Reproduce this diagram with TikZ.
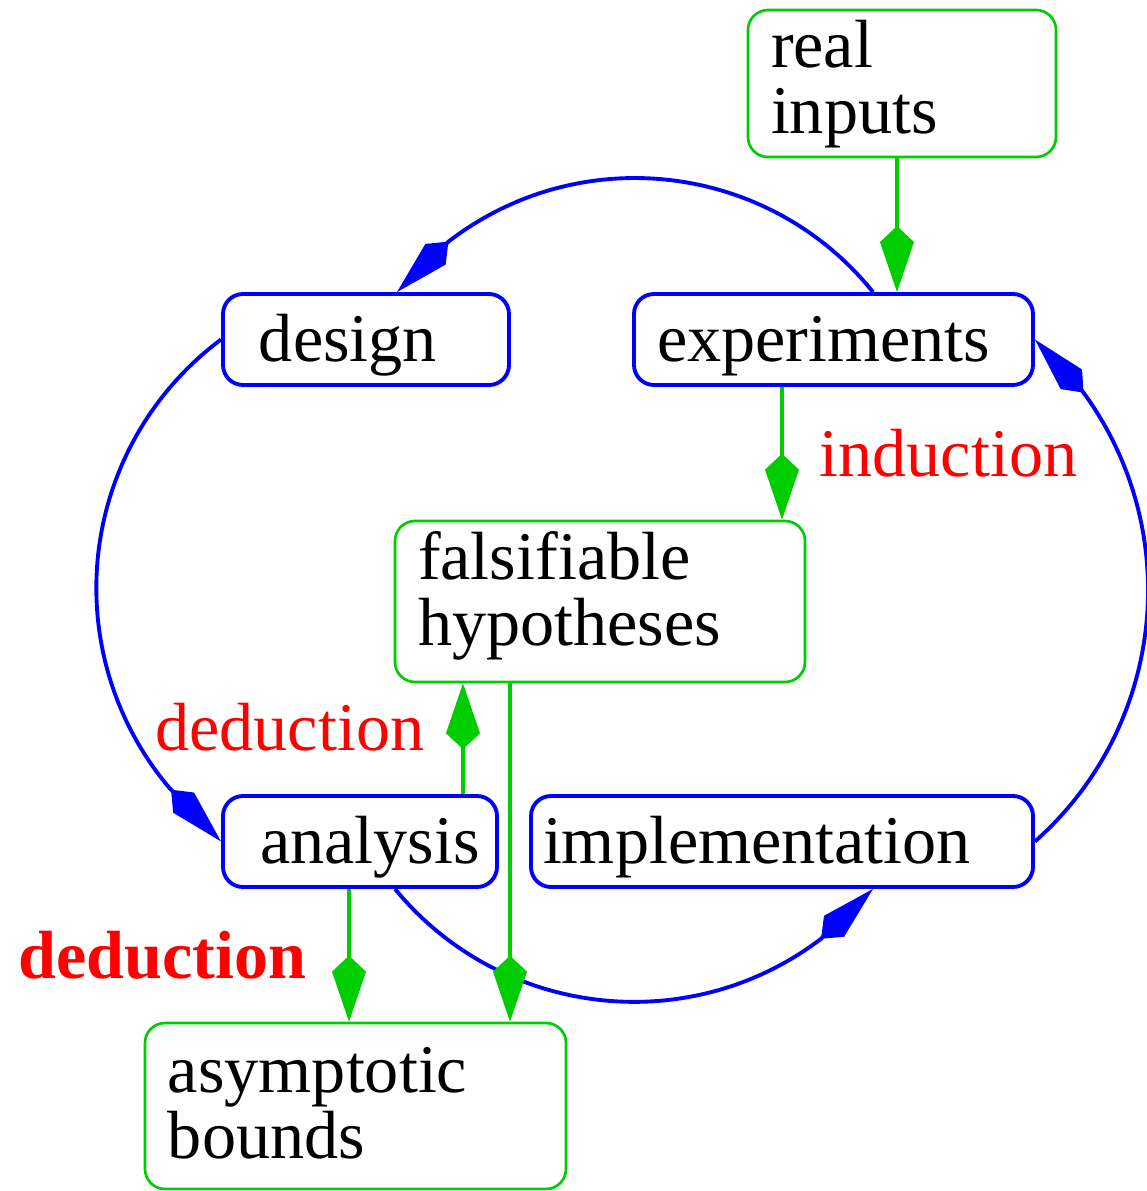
\documentclass[tikz,border=0pt]{standalone}
\usepackage{fontspec}
\setmainfont{Liberation Serif}
\usepackage{xcolor}
\usepackage{tikz}
\usetikzlibrary{arrows.meta}
\definecolor{grn}{RGB}{0,205,0}

\begin{document}
\begin{tikzpicture}[
  every node/.style={font=\fontsize{19.4pt}{18.5pt}\selectfont},
  bluebox/.style={draw=blue, line width=1.1pt, rounded corners=0.2cm, align=left,
    inner ysep=0pt, minimum height=0.91cm, text height=0.645cm, text depth=0.205cm},
  greenbox/.style={draw=grn, line width=0.75pt, rounded corners=0.2cm, align=left, inner ysep=0pt},
  ring/.style={draw=blue, line width=1.1pt,
    -{Kite[length=0.72cm, width=0.29cm, inset=0.18cm]}},
  flow/.style={draw=grn, line width=1pt,
    -{Kite[length=0.66cm, width=0.34cm, inset=0.16cm]}},
  tag/.style={text=red, inner sep=0pt}
]
\useasboundingbox (0,0) rectangle (11.47,11.91);
% ---- boxes ----
\node[greenbox, text width=2.62cm, inner xsep=0.23cm, minimum height=1.47cm,
  text height=0.55cm, text depth=0.86cm] (inputs) at (9.02,11.075) {real\\inputs};
\node[bluebox, text width=2.14cm, inner xsep=0.36cm] (design) at (3.66,8.515) {design};
\node[bluebox, text width=3.53cm, inner xsep=0.23cm] (experiments) at (8.335,8.515) {experiments};
\node[greenbox, text width=3.64cm, inner xsep=0.23cm, minimum height=1.61cm,
  text height=0.56cm, text depth=0.99cm] (hypotheses) at (6.00,5.895) {falsifiable\\hypotheses};
\node[bluebox, text width=2.00cm, inner xsep=0.37cm] (analysis) at (3.60,3.495) {analysis};
\node[bluebox, text width=4.78cm, inner xsep=0.12cm] (implementation) at (7.82,3.495) {implementation};
\node[greenbox, text width=3.75cm, inner xsep=0.23cm, minimum height=1.66cm,
  text height=0.67cm, text depth=0.93cm] (bounds) at (3.555,0.85) {asymptotic\\bounds};
% ---- the cycle (circle arcs, tip on a short straight end) ----
\draw[ring] ([xshift=0.395cm]experiments.north)
  arc[start angle=38.8, end angle=127.7, radius=3.054] -- ([xshift=0.31cm]design.north);
\draw[ring] (design.west)
  arc[start angle=126.7, end angle=220.1, radius=3.10] -- (analysis.west);
\draw[ring] ([xshift=0.35cm]analysis.south)
  arc[start angle=219.4, end angle=307.2, radius=3.092] -- ([xshift=0.91cm]implementation.south);
\draw[ring] (implementation.east)
  arc[start angle=-48.5, end angle=36.2, radius=3.353] -- (experiments.east);
% ---- induction / deduction ----
\draw[flow] ([xshift=-0.05cm]inputs.south) -- ([xshift=-0.05cm]inputs.south |- experiments.north);
\draw[flow] ([xshift=-0.515cm]experiments.south) -- ([xshift=-0.515cm]experiments.south |- hypotheses.north)
  node[tag, midway, right=0.36cm] {induction};
\draw[flow] ([xshift=1.03cm]analysis.north) -- ([xshift=1.03cm]analysis.north |- hypotheses.south)
  node[tag, pos=0.6, left=0.37cm] {deduction};
\draw[flow] ([xshift=-0.11cm]analysis.south) -- ([xshift=-0.11cm]analysis.south |- bounds.north)
  node[tag, midway, left=0.41cm] {\bfseries deduction};
\draw[flow] ([xshift=-0.9cm]hypotheses.south) -- ([xshift=-0.9cm]hypotheses.south |- bounds.north);
\end{tikzpicture}
\end{document}
